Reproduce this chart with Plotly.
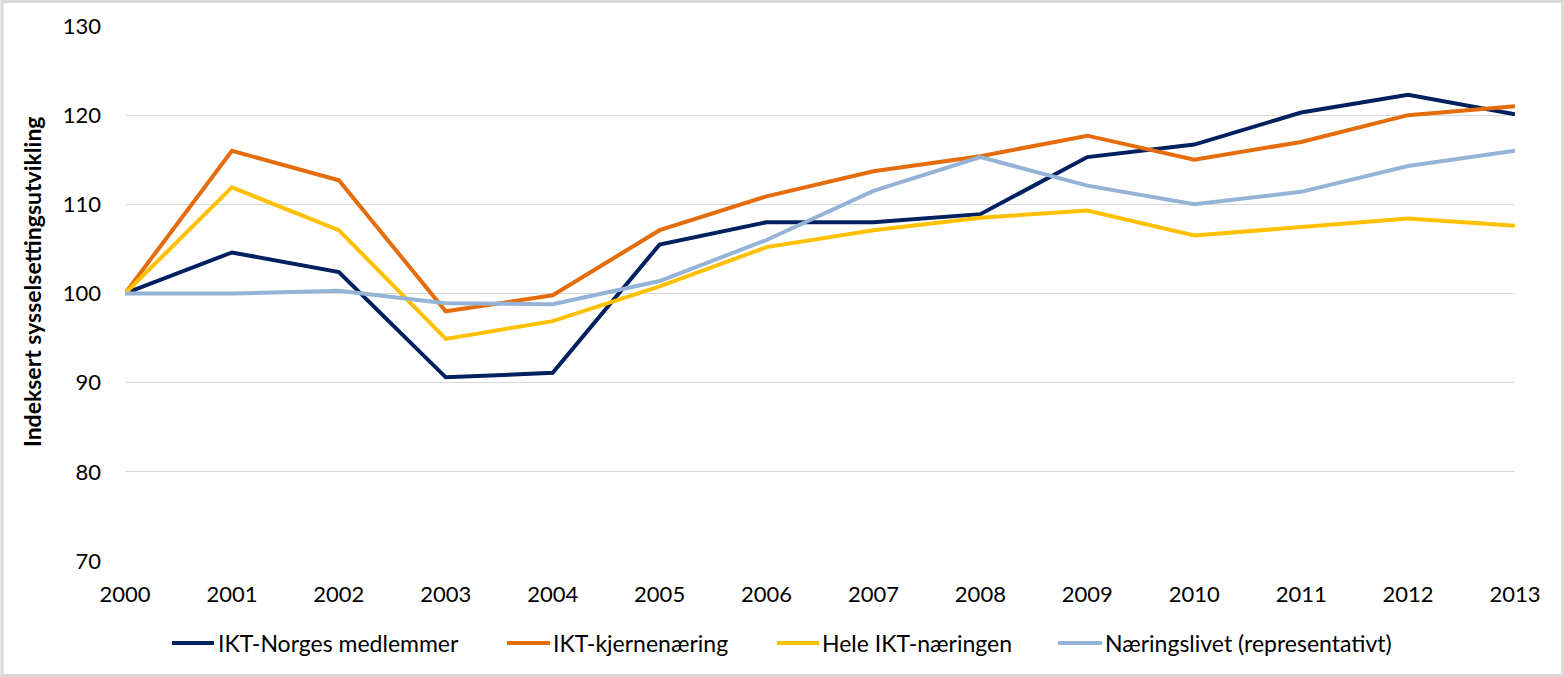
import plotly.graph_objects as go

years = list(range(2000, 2014))
ikt_norge = [100, 104.6, 102.4, 90.6, 91.1, 105.5, 108.0, 108.0, 108.9, 115.3, 116.7, 120.3, 122.3, 120.1]
ikt_kjerne = [100, 116.0, 112.7, 98.0, 99.8, 107.1, 110.9, 113.7, 115.4, 117.7, 115.0, 117.0, 120.0, 121.0]
hele_ikt = [100, 111.9, 107.1, 94.9, 96.9, 100.8, 105.2, 107.1, 108.5, 109.3, 106.5, 107.5, 108.4, 107.6]
naeringsliv = [100, 100.0, 100.3, 98.9, 98.8, 101.4, 106.0, 111.5, 115.3, 112.1, 110.0, 111.4, 114.3, 116.0]

names = ["IKT-Norges medlemmer", "IKT-kjernenæring", "Hele IKT-næringen", "Næringslivet (representativt)"]
colors = ["#002060", "#E46C0A", "#FFC000", "#95B3D7"]
series = [ikt_norge, ikt_kjerne, hele_ikt, naeringsliv]

# legend layout (paper coordinates)
leg_line_x0 = [0.03381, 0.27482, 0.46906, 0.67122]
leg_line_x1 = [0.06403, 0.30576, 0.49928, 0.70288]
leg_text_x = [0.06547, 0.30647, 0.50000, 0.70360]
leg_y = -0.1533

font_family = "Lato, 'Open Sans', sans-serif"

fig = go.Figure()
for name, col, vals in zip(names, colors, series):
    fig.add_trace(go.Scatter(x=years, y=vals, mode="lines", name=name, showlegend=False,
                             line=dict(color=col, width=4)))

shapes = [dict(type="rect", xref="paper", yref="paper",
               x0=-0.0885, x1=1.0342, y0=-0.2140, y1=1.0458,
               line=dict(color="#D9D9D9", width=3), fillcolor="rgba(0,0,0,0)", layer="below")]
annotations = [dict(text="<b>Indeksert sysselsettingsutvikling</b>", xref="paper", yref="paper",
                    x=-0.0669, y=0.5215, xanchor="center", yanchor="middle", textangle=-90,
                    showarrow=False, font=dict(size=23, color="black"))]
for name, col, x0, x1, tx in zip(names, colors, leg_line_x0, leg_line_x1, leg_text_x):
    shapes.append(dict(type="line", xref="paper", yref="paper", x0=x0, x1=x1, y0=leg_y, y1=leg_y,
                       line=dict(color=col, width=4)))
    annotations.append(dict(text=name, xref="paper", yref="paper", x=tx, y=leg_y,
                            xanchor="left", yanchor="middle", showarrow=False,
                            font=dict(size=23, color="black")))

fig.update_layout(
    width=1564, height=677,
    margin=dict(l=125, r=49, t=26, b=116),
    paper_bgcolor="white", plot_bgcolor="white",
    font=dict(family=font_family, size=22, color="black"),
    showlegend=False,
    xaxis=dict(range=[2000, 2013], tickmode="array", tickvals=years,
               ticktext=[str(y) for y in years], showgrid=False, zeroline=False,
               showline=False, ticks="", ticklabelstandoff=18, tickfont=dict(size=22)),
    yaxis=dict(range=[70, 130], tickmode="array", tickvals=[70, 80, 90, 100, 110, 120, 130],
               showgrid=True, gridcolor="#D9D9D9", gridwidth=1, zeroline=False,
               showline=False, ticks="", ticklabelstandoff=23, tickfont=dict(size=22)),
    shapes=shapes,
    annotations=annotations,
)

fig.write_html("out.html", config={"displayModeBar": False},
               post_script="document.body.style.margin='0';document.body.style.overflow='hidden';")
